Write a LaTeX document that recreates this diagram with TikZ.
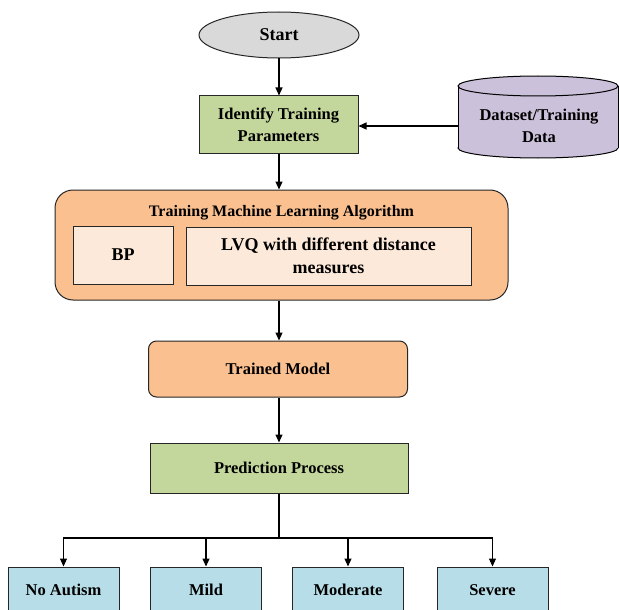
\documentclass[tikz,border=0pt]{standalone}
\usepackage{fontspec}
\setmainfont{Liberation Serif}
\usetikzlibrary{arrows.meta,shapes.geometric}
\definecolor{cgray}{HTML}{D9D9D9}
\definecolor{cgreen}{HTML}{C3D69B}
\definecolor{cpurple}{HTML}{CCC1DA}
\definecolor{corange}{HTML}{FAC090}
\definecolor{clight}{HTML}{FDE9D9}
\definecolor{cblue}{HTML}{B7DEE8}
\tikzset{
  base/.style={draw=black!85, line width=1pt, align=center, font=\bfseries\fontsize{16.5}{22}\selectfont, inner sep=0pt},
  greenbox/.style={base, fill=cgreen},
  outbox/.style={base, fill=cblue, minimum width=111pt, minimum height=46pt},
  conn/.style={line width=1.1pt, -{Triangle[length=8pt,width=7pt]}},
  plain/.style={line width=1.1pt}
}
\begin{document}
\begin{tikzpicture}[x=1pt,y=-1pt]
\useasboundingbox (0,0) rectangle (619,610);
% Start
\node[base, ellipse, fill=cgray, minimum width=160pt, minimum height=46pt, font=\bfseries\fontsize{18}{22}\selectfont] (start) at (279,35) {Start};
% Identify
\node[greenbox, minimum width=159pt, minimum height=57pt] (ident) at (278.5,124.5) {Identify Training\\Parameters};
% Cylinder
\fill[cpurple] (458,86) rectangle (618,148);
\draw[line width=1pt, fill=cpurple] (538,148) ellipse (80 and 10);
\fill[cpurple] (458.5,86) rectangle (617.5,148);
\draw[line width=1pt] (458,86) -- (458,148) (618,86) -- (618,148);
\draw[line width=1pt, fill=cpurple] (538,86) ellipse (80 and 10);
\node[base, draw=none, minimum width=160pt, minimum height=40pt] (data) at (539,126) {Dataset/Training\\Data};
% Algorithm outer
\node[base, fill=corange, rounded corners=18pt, minimum width=453pt, minimum height=110pt] (algo) at (281.5,245) {};
\node[base, draw=none, font=\bfseries\fontsize{16}{20}\selectfont] (algot) at (281.5,213) {Training Machine Learning Algorithm};
\node[base, fill=clight, minimum width=100pt, minimum height=58pt, font=\bfseries\fontsize{18}{23}\selectfont] (bp) at (123,255) {BP};
\node[base, fill=clight, minimum width=285pt, minimum height=58pt, font=\bfseries\fontsize{18}{23}\selectfont] (lvq) at (328.5,256) {LVQ with different distance\\measures};
% Trained model
\node[base, fill=corange, rounded corners=8pt, minimum width=259pt, minimum height=56pt] (trained) at (278,369) {Trained Model};
% Prediction
\node[greenbox, minimum width=258pt, minimum height=50pt] (pred) at (279,468) {Prediction Process};
% Outcomes
\node[outbox] (o1) at (63.5,590) {No Autism};
\node[outbox] (o2) at (206,590) {Mild};
\node[outbox] (o3) at (348,590) {Moderate};
\node[outbox] (o4) at (492.5,590) {Severe};
\coordinate (br) at (279,538);
% Connectors
\draw[conn] (start.south) -- (ident.north -| start.south);
\draw[conn] (data.west) -- (ident.east |- data.west);
\draw[conn] (ident.south -| start.south) -- (algo.north -| start.south);
\draw[conn] (algo.south -| start.south) -- (trained.north -| start.south);
\draw[conn] (trained.south -| start.south) -- (pred.north -| start.south);
\draw[plain] (pred.south -| br) -- (br);
\draw[conn] (br) -| (o1.north);
\draw[conn] (br) -| (o2.north);
\draw[conn] (br) -| (o3.north);
\draw[conn] (br) -| (o4.north);
\end{tikzpicture}
\end{document}
